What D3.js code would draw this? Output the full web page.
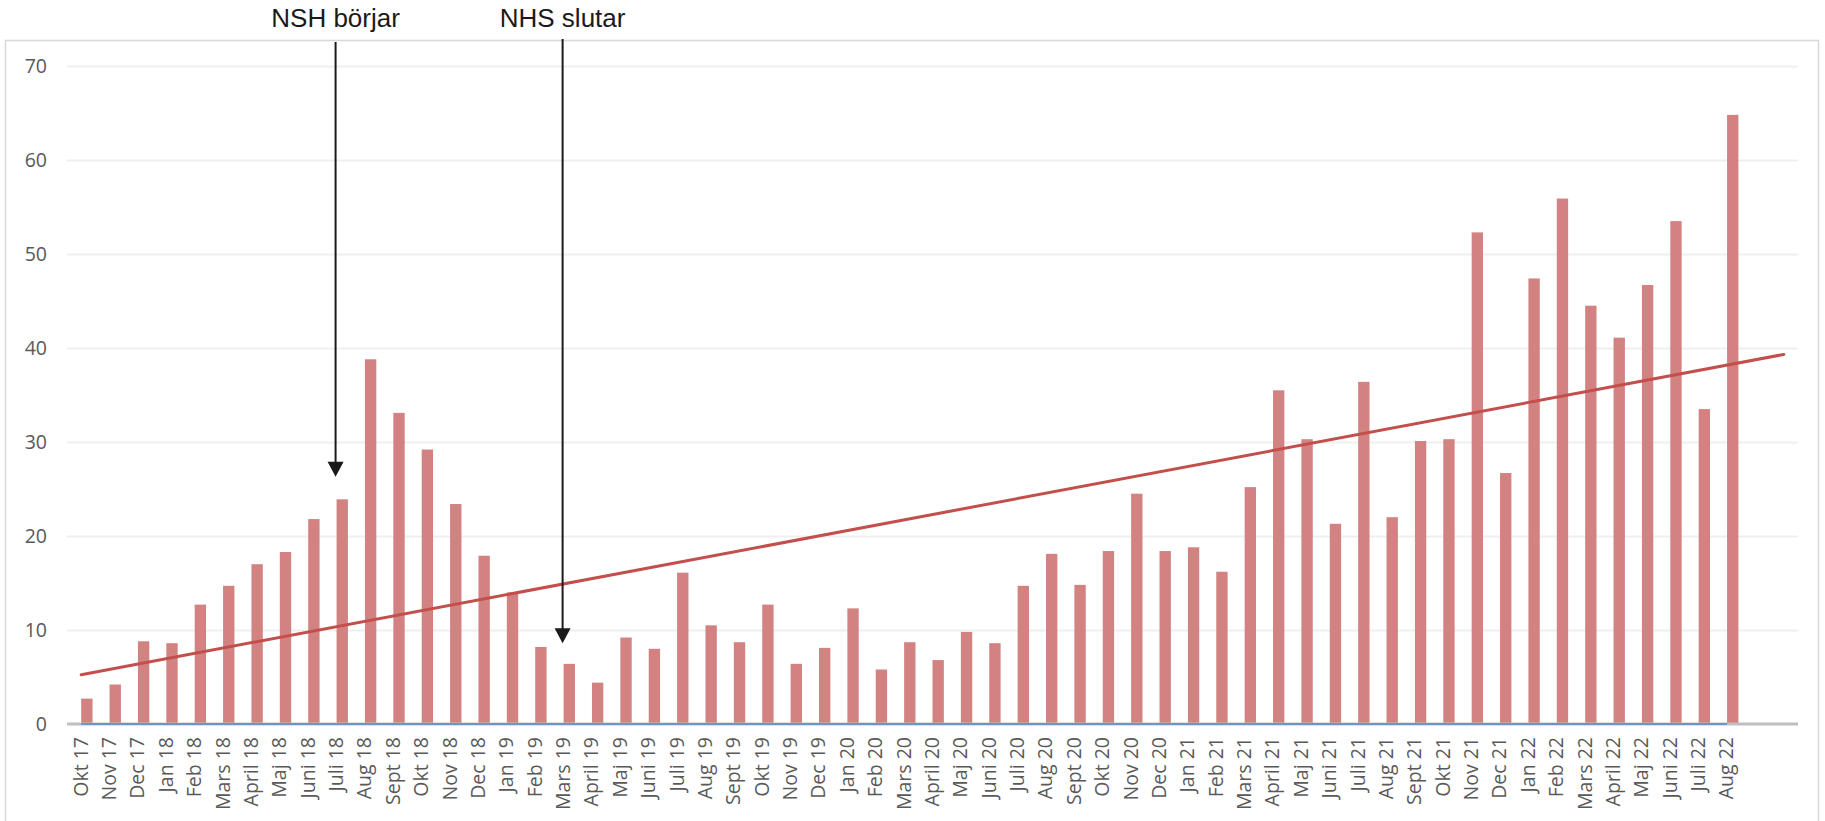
<!DOCTYPE html>
<html>
<head>
<meta charset="utf-8">
<script src="https://cdn.jsdelivr.net/npm/d3@7"></script>
<style>
  body { margin: 0; background: #fff; }
  svg { display: block; }
</style>
</head>
<body>
<svg width="1825" height="821"></svg>
<script>
(function () {

    // months on the category axis
    var months = ["Okt 17", "Nov 17", "Dec 17",
        "Jan 18", "Feb 18", "Mars 18", "April 18", "Maj 18", "Juni 18", "Juli 18", "Aug 18", "Sept 18", "Okt 18", "Nov 18", "Dec 18",
        "Jan 19", "Feb 19", "Mars 19", "April 19", "Maj 19", "Juni 19", "Juli 19", "Aug 19", "Sept 19", "Okt 19", "Nov 19", "Dec 19",
        "Jan 20", "Feb 20", "Mars 20", "April 20", "Maj 20", "Juni 20", "Juli 20", "Aug 20", "Sept 20", "Okt 20", "Nov 20", "Dec 20",
        "Jan 21", "Feb 21", "Mars 21", "April 21", "Maj 21", "Juni 21", "Juli 21", "Aug 21", "Sept 21", "Okt 21", "Nov 21", "Dec 21",
        "Jan 22", "Feb 22", "Mars 22", "April 22", "Maj 22", "Juni 22", "Juli 22", "Aug 22"];

    // bar series
    var values = [2.7, 4.2, 8.8,
        8.6, 12.7, 14.7, 17.0, 18.3, 21.8, 23.9, 38.8, 33.1, 29.2, 23.4, 17.9,
        14.0, 8.2, 6.4, 4.4, 9.2, 8.0, 16.1, 10.5, 8.7, 12.7, 6.4, 8.1,
        12.3, 5.8, 8.7, 6.8, 9.8, 8.6, 14.7, 18.1, 14.8, 18.4, 24.5, 18.4,
        18.8, 16.2, 25.2, 35.5, 30.3, 21.3, 36.4, 22.0, 30.1, 30.3, 52.3, 26.7,
        47.4, 55.9, 44.5, 41.1, 46.7, 53.5, 33.5, 64.8];

    // second (blue) series, flat on the axis
    var baseSeries = [0, 0, 0,
        0, 0, 0, 0, 0, 0, 0, 0, 0, 0, 0, 0,
        0, 0, 0, 0, 0, 0, 0, 0, 0, 0, 0, 0,
        0, 0, 0, 0, 0, 0, 0, 0, 0, 0, 0, 0,
        0, 0, 0, 0, 0, 0, 0, 0, 0, 0, 0, 0,
        0, 0, 0, 0, 0, 0, 0, 0];

    var yTicks = [0, 10, 20, 30, 40, 50, 60, 70];
    var forecastPeriods = 2;

    var annotations = [
        { label: "NSH börjar", month: "Juli 18", tip: 26.3 },
        { label: "NHS slutar", month: "Mars 19", tip: 8.6 }
    ];

    var svg = d3.select("svg"),
        width = +svg.attr("width"),
        height = +svg.attr("height");

    var left = 67, right = 1798, top = 66, bottom = 724;

    var nCats = months.length + forecastPeriods;
    var x = d3.scaleBand()
        .domain(d3.range(nCats))
        .range([left, right]);

    // two series per category: blank first, value second (gap width 50%)
    var xSub = d3.scaleBand()
        .domain(["base", "value"])
        .range([0, x.bandwidth()])
        .paddingOuter(0.25);

    var y = d3.scaleLinear()
        .domain([0, 70])
        .range([bottom, top]);

    var cx = function (i) { return x(i) + x.bandwidth() / 2; };

    // outer chart frame
    svg.append("rect")
        .attr("x", 5.5)
        .attr("y", 40.5)
        .attr("width", 1813)
        .attr("height", 800)
        .attr("fill", "#fff")
        .attr("stroke", "#d9d9d9")
        .attr("stroke-width", 1.6);

    // gridlines
    svg.append("g")
        .attr("transform", "translate(" + left + ",0)")
        .call(d3.axisLeft(y).tickValues(yTicks.slice(1)).tickSize(-(right - left)).tickFormat(""))
        .call(function (g) { g.select(".domain").remove(); })
        .selectAll("line")
        .attr("stroke", "#efefef")
        .attr("stroke-width", 2);

    // y labels
    svg.append("g")
        .attr("transform", "translate(47,0)")
        .call(d3.axisLeft(y).tickValues(yTicks).tickSize(0).tickPadding(0))
        .call(function (g) { g.select(".domain").remove(); })
        .selectAll("text")
        .attr("font-family", "'Open Sans', sans-serif")
        .attr("font-size", "19.5px")
        .attr("fill", "#595959");

    // bars
    svg.append("g")
        .selectAll("rect")
        .data(values)
        .enter().append("rect")
        .attr("x", function (d, i) { return x(i) + xSub("value"); })
        .attr("width", xSub.bandwidth())
        .attr("y", function (d) { return y(d); })
        .attr("height", function (d) { return y(0) - y(d); })
        .attr("fill", "#d38282");

    // category axis line
    svg.append("line")
        .attr("x1", left)
        .attr("x2", right)
        .attr("y1", y(0))
        .attr("y2", y(0))
        .attr("stroke", "#bfbfbf")
        .attr("stroke-width", 3);

    // blue series
    svg.append("path")
        .datum(baseSeries)
        .attr("fill", "none")
        .attr("stroke", "#6d95c8")
        .attr("stroke-width", 2)
        .attr("d", d3.line().x(function (d, i) { return cx(i); }).y(function (d) { return y(d); }));

    // linear trend, forecast forward 2 periods
    var n = values.length,
        meanX = d3.mean(values, function (d, i) { return i; }),
        meanY = d3.mean(values);
    var sxy = 0, sxx = 0;
    values.forEach(function (d, i) {
        sxy += (i - meanX) * (d - meanY);
        sxx += (i - meanX) * (i - meanX);
    });
    var slope = sxy / sxx,
        intercept = meanY - slope * meanX;
    var trendEnds = [0, n - 1 + forecastPeriods];

    svg.append("path")
        .datum(trendEnds)
        .attr("fill", "none")
        .attr("stroke", "#c24f4c")
        .attr("stroke-width", 3)
        .attr("stroke-linecap", "round")
        .attr("d", d3.line().x(function (i) { return cx(i); }).y(function (i) { return y(intercept + slope * i); }));

    // x labels
    var xAxis = svg.append("g")
        .attr("transform", "translate(0," + bottom + ")")
        .call(d3.axisBottom(x).tickSize(0).tickFormat(function (i) { return months[i] || ""; }));
    xAxis.select(".domain").remove();
    xAxis.selectAll("text")
        .attr("font-family", "'Open Sans', sans-serif")
        .attr("font-size", "19.5px")
        .attr("fill", "#595959")
        .attr("text-anchor", "end")
        .attr("transform", "rotate(-90)")
        .attr("x", -13)
        .attr("y", 0)
        .attr("dy", "0.33em");

    // annotation arrows
    var ann = svg.append("g")
        .selectAll("g")
        .data(annotations)
        .enter().append("g")
        .attr("transform", function (d) { return "translate(" + (cx(months.indexOf(d.month)) - 1) + ",0)"; });

    ann.append("text")
        .attr("x", 0)
        .attr("y", 27)
        .attr("text-anchor", "middle")
        .attr("font-family", "'Liberation Sans', Arial, sans-serif")
        .attr("font-size", "26px")
        .attr("fill", "#1a1a1a")
        .text(function (d) { return d.label; });

    ann.append("line")
        .attr("x1", 0)
        .attr("x2", 0)
        .attr("y1", function (d, i) { return i === 0 ? 42 : 39; })
        .attr("y2", function (d) { return y(d.tip) - 12; })
        .attr("stroke", "#1a1a1a")
        .attr("stroke-width", 2);

    ann.append("path")
        .attr("d", function (d) {
            var t = y(d.tip);
            return "M0," + t + "L-8," + (t - 15) + "L8," + (t - 15) + "Z";
        })
        .attr("fill", "#1a1a1a");

})();
</script>
</body>
</html>
